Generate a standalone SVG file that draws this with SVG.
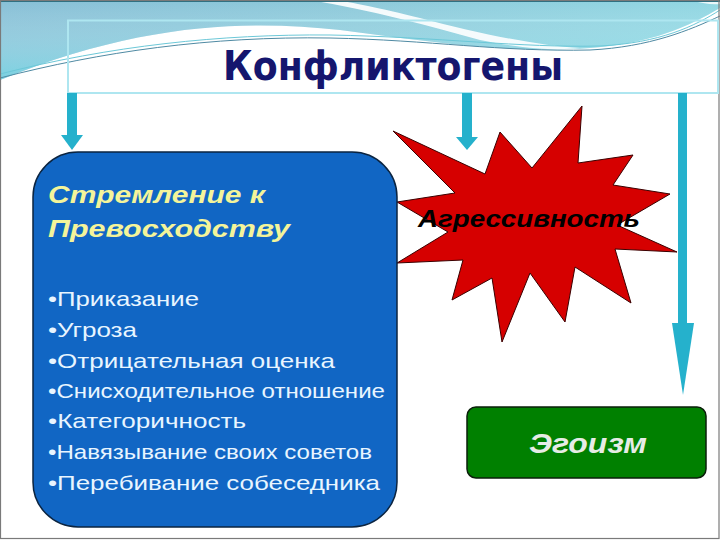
<svg xmlns="http://www.w3.org/2000/svg" width="720" height="540" viewBox="0 0 720 540">
<defs>
<linearGradient id="sky" x1="0" y1="0" x2="1" y2="0">
<stop offset="0" stop-color="#86bfd6"/>
<stop offset="0.5" stop-color="#8cc9da"/>
<stop offset="1" stop-color="#8fd6e2"/>
</linearGradient>
<linearGradient id="skyv" x1="0" y1="0" x2="0" y2="1">
<stop offset="0" stop-color="#ffffff" stop-opacity="0"/>
<stop offset="1" stop-color="#6fdde8" stop-opacity="0.6"/>
</linearGradient>
<style>
.arrow{fill:#25b1cc}
.bul{font-family:"Liberation Sans",Arial,sans-serif;font-size:21px;fill:#e8f5ff}
.head{font-family:"Liberation Sans",Arial,sans-serif;font-size:23px;font-weight:bold;font-style:italic;fill:#f4f49a}
</style>
</defs>
<rect x="0" y="0" width="720" height="540" fill="#ffffff"/>
<g id="background">
<path d="M0,0 H720 V8 C690,26 650,44 590,48 C500,54 420,40 340,30 C250,20 140,22 0,80 Z" fill="url(#sky)"/>
<path d="M0,0 H720 V8 C690,26 650,44 590,48 C500,54 420,40 340,30 C250,20 140,22 0,80 Z" fill="url(#skyv)"/>
<path d="M310,0 C370,10 430,26 480,40 C530,50 560,50 580,48 C540,46 480,34 420,18 C380,8 350,2 335,0 Z" fill="#ffffff" opacity="0.9"/>
<path d="M690,0 C700,3 712,5 720,4 V0 Z" fill="#ffffff" opacity="0.8"/>
<path d="M0,78 C100,52 210,36 330,38 C430,40 500,52 590,50 C650,47 690,30 720,16" fill="none" stroke="#4f8aa3" stroke-width="1"/>
<path d="M0,74 C110,46 220,34 330,35 C440,37 520,48 600,46 C660,43 695,26 720,10" fill="none" stroke="#6cc8d8" stroke-width="1"/>
<rect x="0" y="0" width="720" height="2" fill="#2a6f82"/>
<rect x="0.5" y="0.5" width="718.5" height="538" fill="none" stroke="#7a7a7a" stroke-width="1.2"/>
</g>
<g id="title">
<rect x="68" y="20.5" width="650" height="72.5" fill="none" stroke="#aee6f0" stroke-width="2"/>
<text x="223" y="80" font-family="'DejaVu Sans Condensed','DejaVu Sans',sans-serif" font-stretch="condensed" font-weight="bold" font-size="41" fill="#15166e" textLength="340" lengthAdjust="spacingAndGlyphs">Конфликтогены</text>
</g>
<g id="connectors">
<rect class="arrow" x="67" y="93" width="10" height="43"/>
<polygon class="arrow" points="61,135 83,135 72,150"/>
<rect class="arrow" x="462" y="93" width="10" height="45"/>
<polygon class="arrow" points="456,137 478,137 467,150"/>
<rect class="arrow" x="678" y="93" width="9" height="232"/>
<polygon class="arrow" points="672,323 694,323 683,395"/>
</g>
<g id="star">
<polygon points="393,131 485,174 500,132 532,168 582,106 578,163 633,155 613,185 670,194 617,225 677,252 615,249 631,303 575,267 565,322 530,273 502,342 492,278 452,300 463,260 397,263 448,232 397,202 455,193" fill="#d60000" stroke="#3a0000" stroke-width="1"/>
<text x="418" y="227" font-family="'Liberation Sans',Arial,sans-serif" font-size="24" font-weight="bold" font-style="italic" fill="#000000" textLength="222" lengthAdjust="spacingAndGlyphs">Агрессивность</text>
</g>
<g id="superiority">
<rect x="33" y="152" width="364" height="375" rx="45" ry="45" fill="#1166c4" stroke="#0b2440" stroke-width="1.5"/>
<text class="head" x="48" y="203" textLength="217" lengthAdjust="spacingAndGlyphs">Стремление к</text>
<text class="head" x="48" y="237" textLength="242" lengthAdjust="spacingAndGlyphs">Превосходству</text>
<text class="bul" x="48" y="306" textLength="151" lengthAdjust="spacingAndGlyphs">•Приказание</text>
<text class="bul" x="48" y="337" textLength="89" lengthAdjust="spacingAndGlyphs">•Угроза</text>
<text class="bul" x="48" y="368" textLength="287" lengthAdjust="spacingAndGlyphs">•Отрицательная оценка</text>
<text class="bul" x="48" y="398" textLength="337" lengthAdjust="spacingAndGlyphs">•Снисходительное отношение</text>
<text class="bul" x="48" y="428" textLength="198" lengthAdjust="spacingAndGlyphs">•Категоричность</text>
<text class="bul" x="48" y="459" textLength="324" lengthAdjust="spacingAndGlyphs">•Навязывание своих советов</text>
<text class="bul" x="48" y="490" textLength="332" lengthAdjust="spacingAndGlyphs">•Перебивание собеседника</text>
</g>
<g id="egoism">
<rect x="467" y="407" width="239" height="71" rx="9" ry="9" fill="#008000" stroke="#0a1f0a" stroke-width="1.5"/>
<text x="588" y="453" text-anchor="middle" font-family="'Liberation Sans',Arial,sans-serif" font-size="27" font-weight="bold" font-style="italic" fill="#e6ece6" textLength="118" lengthAdjust="spacingAndGlyphs">Эгоизм</text>
</g>
</svg>
